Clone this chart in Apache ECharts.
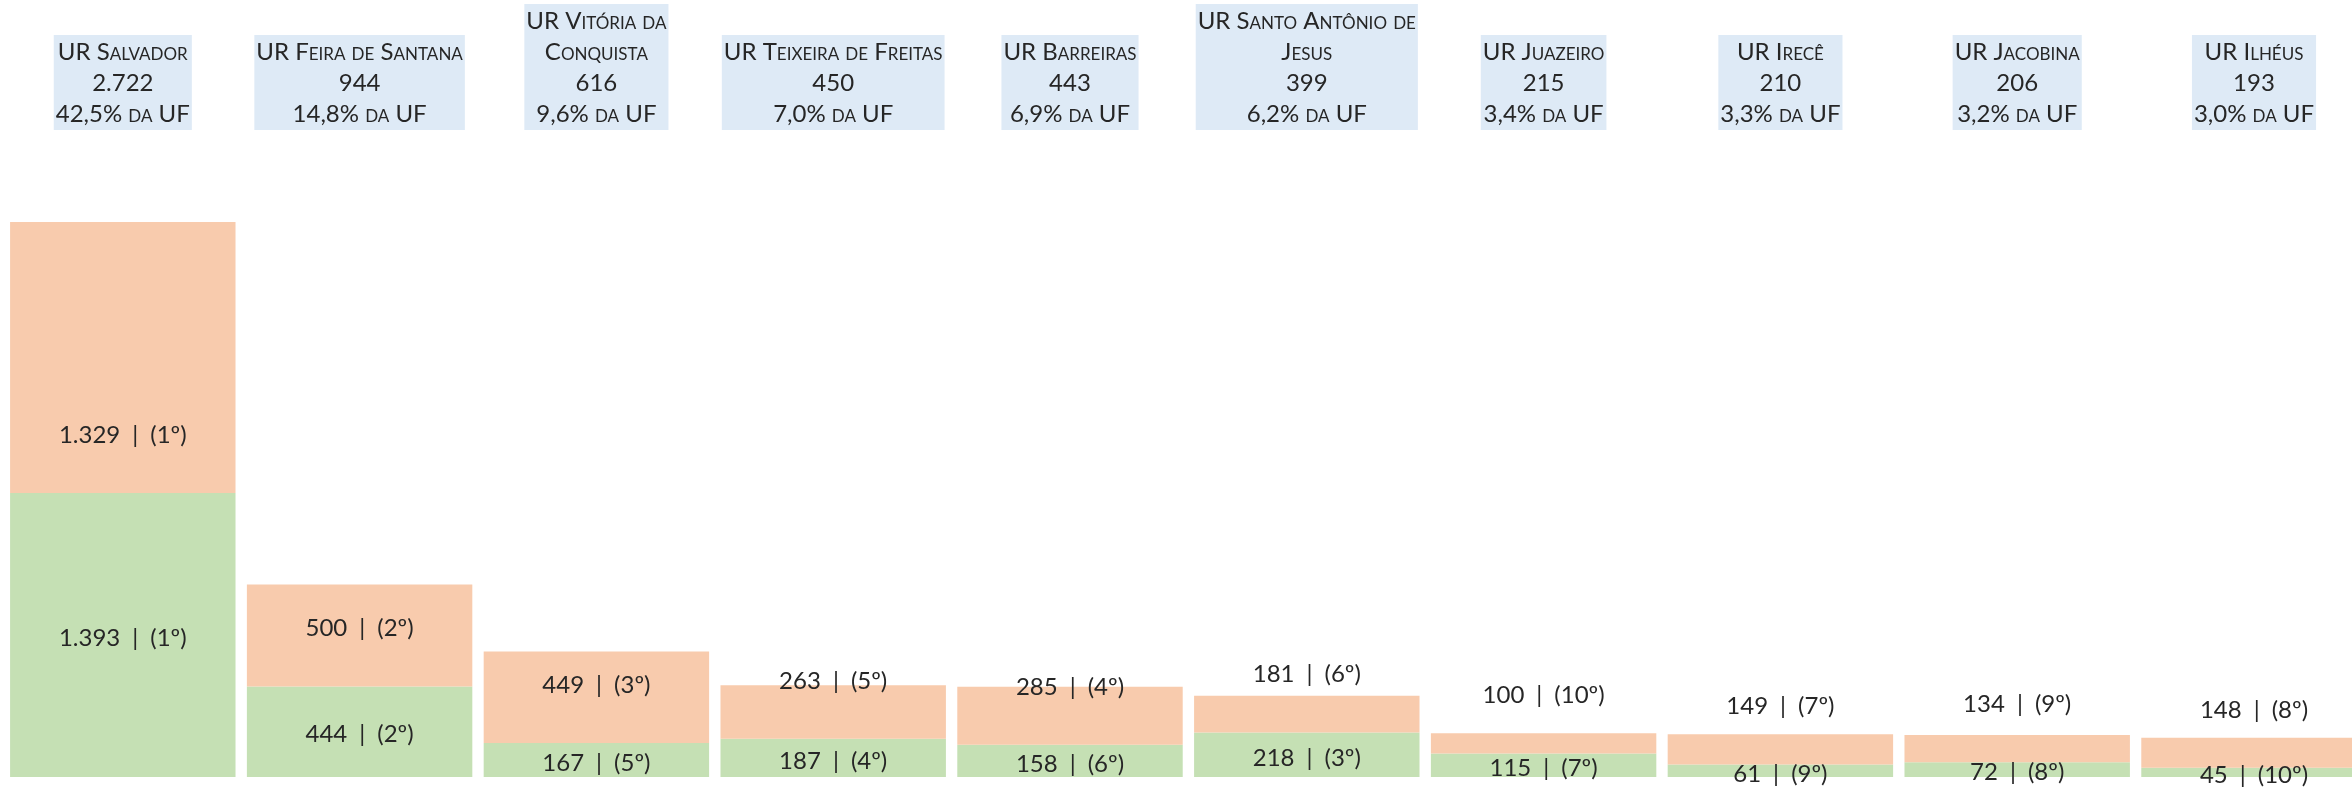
<!DOCTYPE html>
<html>
<head>
<meta charset="utf-8">
<script src="https://cdn.jsdelivr.net/npm/echarts@6/dist/echarts.min.js"></script>
<style>
html,body{margin:0;padding:0;background:#fff;}
#chart{width:2352px;height:787px;}
</style>
</head>
<body>
<div id="chart"></div>
<script>
// ---- data ----
const categories = ['UR Salvador', 'UR Feira de Santana', 'UR Vitória da Conquista', 'UR Teixeira de Freitas', 'UR Barreiras', 'UR Santo Antônio de Jesus', 'UR Juazeiro', 'UR Irecê', 'UR Jacobina', 'UR Ilhéus'];
const lowerValues = [1393, 444, 167, 187, 158, 218, 115, 61, 72, 45];   // green segment
const upperValues = [1329, 500, 449, 263, 285, 181, 100, 149, 134, 148]; // orange segment
const ufShares = [42.5, 14.8, 9.6, 7.0, 6.9, 6.2, 3.4, 3.3, 3.2, 3.0];   // % da UF

// ---- helpers ----
const totals = categories.map((c, i) => lowerValues[i] + upperValues[i]);
function fmt(n) { return String(n).replace(/\B(?=(\d{3})+(?!\d))/g, '.'); }
function ranks(arr) {
  const sorted = arr.slice().sort((a, b) => b - a);
  return arr.map(v => sorted.indexOf(v) + 1);
}
const lowerRanks = ranks(lowerValues);
const upperRanks = ranks(upperValues);
function wrapName(name) {
  if (name.length > 22) {
    const k = name.lastIndexOf(' ');
    return name.slice(0, k) + '\n' + name.slice(k + 1);
  }
  return name;
}
const SEP = '\u2002|\u2002';

const FONT = 'Lato';
const chart = echarts.init(document.getElementById('chart'));
chart.setOption({
  animation: false,
  grid: { left: 4.4, width: 2368, top: 222, bottom: 10, containLabel: false, outerBoundsMode: 'none' },
  xAxis: {
    type: 'category',
    position: 'top',
    data: categories,
    axisLine: { show: false },
    axisTick: { show: false },
    axisLabel: {
      interval: 0,
      margin: 92,
      fontFamily: FONT,
      fontStyle: 'small-caps',
      fontSize: 24,
      lineHeight: 31,
      color: '#262626',
      align: 'center',
      backgroundColor: '#deeaf6',
      padding: [2, 2, 0, 2],
      formatter: (name, idx) => wrapName(name) + '\n' + fmt(totals[idx]) + '\n' +
        ufShares[idx].toFixed(1).replace('.', ',') + '% da UF'
    }
  },
  yAxis: {
    type: 'value',
    show: false,
    min: 0,
    max: Math.max(...totals),
    splitLine: { show: false }
  },
  series: [
    {
      name: 'Verde',
      type: 'bar',
      stack: 'total',
      barCategoryGap: '4.8%',
      data: lowerValues,
      itemStyle: { color: '#c5e0b4' },
      label: {
        show: true,
        position: ['50%', '50%'],
        align: 'center',
        verticalAlign: 'middle',
        offset: [0, 3],
        fontFamily: FONT,
        fontSize: 24,
        color: '#262626',
        formatter: p => fmt(p.value) + SEP + '(' + lowerRanks[p.dataIndex] + 'º)'
      }
    },
    {
      name: 'Laranja',
      type: 'bar',
      stack: 'total',
      barCategoryGap: '4.8%',
      data: upperValues,
      itemStyle: { color: '#f8cbad' },
      label: {
        show: true,
        position: ['50%', '100%'],
        align: 'center',
        verticalAlign: 'middle',
        offset: [0, -58],
        fontFamily: FONT,
        fontSize: 24,
        color: '#262626',
        formatter: p => fmt(p.value) + SEP + '(' + upperRanks[p.dataIndex] + 'º)'
      }
    }
  ]
});
</script>
</body>
</html>
